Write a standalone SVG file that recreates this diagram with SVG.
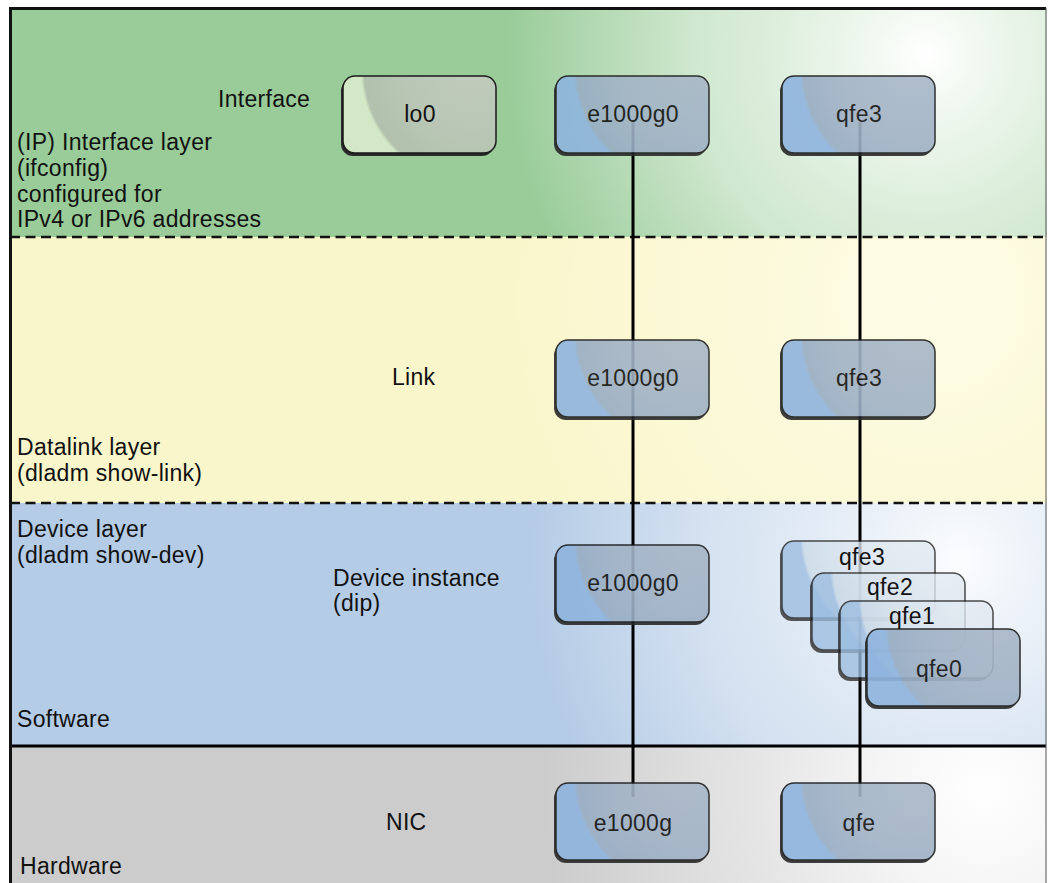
<svg xmlns="http://www.w3.org/2000/svg" width="1049" height="883" viewBox="0 0 1049 883">
<defs>
<style>
text{font-family:"Liberation Sans",Arial,sans-serif;font-size:23px;letter-spacing:0.3px;fill:#111}
.nl{text-anchor:middle}
.box{stroke:#1a1a1a;stroke-width:1.5}
.sh{fill:#2a2a2a}
.blue{fill:url(#gBlue)}
.light{fill:url(#gLight)}
.green{fill:url(#gGreen)}
.conn{stroke:#000;stroke-width:3;fill:none}
.dash{stroke:#111;stroke-width:2.5;stroke-dasharray:10 5.5;fill:none}
</style>
<radialGradient id="gBlue" gradientUnits="userSpaceOnUse" cx="130" cy="-5" r="112">
<stop offset="0" stop-color="#A9B8C8"/>
<stop offset="0.6" stop-color="#A2B3C6"/>
<stop offset="0.97" stop-color="#98ADC4"/>
<stop offset="1" stop-color="#8FB4DE"/>
</radialGradient>
<radialGradient id="gLight" gradientUnits="userSpaceOnUse" cx="130" cy="-5" r="112">
<stop offset="0" stop-color="#E4EBF2"/>
<stop offset="0.6" stop-color="#DAE4EE"/>
<stop offset="0.97" stop-color="#CBDAE8"/>
<stop offset="1" stop-color="#9CBDE0"/>
</radialGradient>
<radialGradient id="gGreen" gradientUnits="userSpaceOnUse" cx="130" cy="-5" r="112">
<stop offset="0" stop-color="#C0CBBC"/>
<stop offset="0.6" stop-color="#B9C6B5"/>
<stop offset="0.97" stop-color="#B1C1AD"/>
<stop offset="1" stop-color="#D3E8C6"/>
</radialGradient>
<radialGradient id="glowG" gradientUnits="userSpaceOnUse" cx="925" cy="55" r="420">
<stop offset="0" stop-color="#FFFFFF" stop-opacity="1"/>
<stop offset="0.15" stop-color="#F4FAF3" stop-opacity="0.95"/>
<stop offset="0.55" stop-color="#E2F1E1" stop-opacity="0.75"/>
<stop offset="1" stop-color="#E2F1E1" stop-opacity="0"/>
</radialGradient>
<radialGradient id="glowY" gradientUnits="userSpaceOnUse" cx="930" cy="300" r="420">
<stop offset="0" stop-color="#FFFEF0" stop-opacity="0.7"/>
<stop offset="1" stop-color="#FFFEF0" stop-opacity="0"/>
</radialGradient>
<radialGradient id="glowB" gradientUnits="userSpaceOnUse" cx="960" cy="560" r="430">
<stop offset="0" stop-color="#FFFFFF" stop-opacity="0.95"/>
<stop offset="0.2" stop-color="#F2F6FB" stop-opacity="0.9"/>
<stop offset="0.6" stop-color="#E2EBF5" stop-opacity="0.7"/>
<stop offset="1" stop-color="#E2EBF5" stop-opacity="0"/>
</radialGradient>
<radialGradient id="glowH" gradientUnits="userSpaceOnUse" cx="985" cy="790" r="440">
<stop offset="0" stop-color="#FFFFFF" stop-opacity="1"/>
<stop offset="0.25" stop-color="#F7F7F7" stop-opacity="0.95"/>
<stop offset="0.65" stop-color="#E8E8E8" stop-opacity="0.7"/>
<stop offset="1" stop-color="#E8E8E8" stop-opacity="0"/>
</radialGradient>
</defs>

<g id="background">
<rect x="9" y="7" width="1038" height="230" fill="#99CC99"/>
<rect x="9" y="7" width="1038" height="230" fill="url(#glowG)"/>
<rect x="9" y="237" width="1038" height="266" fill="#FAF6CC"/>
<rect x="9" y="237" width="1038" height="266" fill="url(#glowY)"/>
<rect x="9" y="503" width="1038" height="243" fill="#B5CCE6"/>
<rect x="9" y="503" width="1038" height="243" fill="url(#glowB)"/>
<rect x="9" y="746" width="1038" height="140" fill="#CCCCCC"/>
<rect x="9" y="746" width="1038" height="140" fill="url(#glowH)"/>
<line class="dash" x1="10" y1="237" x2="1046" y2="237"/>
<line class="dash" x1="10" y1="503" x2="1046" y2="503"/>
<line x1="10" y1="746" x2="1046" y2="746" stroke="#000" stroke-width="3"/>
<path d="M10.5 883 V8.5 H1046" fill="none" stroke="#111" stroke-width="3"/>
<line x1="1046" y1="8" x2="1046" y2="883" stroke="#555" stroke-width="1"/>
</g>

<g id="labels">
<text x="218" y="107">Interface</text>
<text x="17" y="150">(IP) Interface layer</text>
<text x="17" y="176">(ifconfig)</text>
<text x="17" y="202">configured for</text>
<text x="17" y="227">IPv4 or IPv6 addresses</text>
<text x="392" y="385">Link</text>
<text x="17" y="455">Datalink layer</text>
<text x="17" y="481">(dladm show-link)</text>
<text x="17" y="537">Device layer</text>
<text x="17" y="563">(dladm show-dev)</text>
<text x="333" y="586">Device instance</text>
<text x="333" y="611">(dip)</text>
<text x="17" y="727">Software</text>
<text x="20" y="874">Hardware</text>
<text x="386" y="830">NIC</text>
</g>

<g id="connectors">
<line class="conn" x1="633" y1="122" x2="633" y2="797"/>
<line class="conn" x1="860" y1="122" x2="860" y2="797"/>
</g>

<g id="node-lo0" transform="translate(343,76)">
<rect class="sh" x="-2" y="3" width="153" height="77" rx="12"/>
<rect class="box green" width="153" height="77" rx="12"/>
<text class="nl" x="77" y="46">lo0</text>
</g>
<g id="node-if-e1000g0" transform="translate(556,76)" opacity="0.9">
<rect class="sh" x="-2" y="3" width="153" height="77" rx="12"/>
<rect class="box blue" width="153" height="77" rx="12"/>
<text class="nl" x="77" y="46">e1000g0</text>
</g>
<g id="node-if-qfe3" transform="translate(782,76)" opacity="0.9">
<rect class="sh" x="-2" y="3" width="153" height="77" rx="12"/>
<rect class="box blue" width="153" height="77" rx="12"/>
<text class="nl" x="77" y="46">qfe3</text>
</g>
<g id="node-link-e1000g0" transform="translate(556,340)" opacity="0.9">
<rect class="sh" x="-2" y="3" width="153" height="77" rx="12"/>
<rect class="box blue" width="153" height="77" rx="12"/>
<text class="nl" x="77" y="46">e1000g0</text>
</g>
<g id="node-link-qfe3" transform="translate(782,340)" opacity="0.9">
<rect class="sh" x="-2" y="3" width="153" height="77" rx="12"/>
<rect class="box blue" width="153" height="77" rx="12"/>
<text class="nl" x="77" y="46">qfe3</text>
</g>
<g id="node-dev-e1000g0" transform="translate(556,545)" opacity="0.9">
<rect class="sh" x="-2" y="3" width="153" height="77" rx="12"/>
<rect class="box blue" width="153" height="77" rx="12"/>
<text class="nl" x="77" y="46">e1000g0</text>
</g>
<g id="node-dev-qfe3" transform="translate(782,541)">
<g opacity="0.78">
<rect class="sh" x="-2" y="3" width="153" height="77" rx="12"/>
<rect class="box light" width="153" height="77" rx="12"/>
</g>
<text class="nl" x="80" y="24">qfe3</text>
</g>
<g id="node-dev-qfe2" transform="translate(812,573)">
<g opacity="0.78">
<rect class="sh" x="-2" y="3" width="153" height="77" rx="12"/>
<rect class="box light" width="153" height="77" rx="12"/>
</g>
<text class="nl" x="78" y="22">qfe2</text>
</g>
<g id="node-dev-qfe1" transform="translate(840,601)">
<g opacity="0.78">
<rect class="sh" x="-2" y="3" width="153" height="77" rx="12"/>
<rect class="box light" width="153" height="77" rx="12"/>
</g>
<text class="nl" x="72" y="23">qfe1</text>
</g>
<g id="node-dev-qfe0" transform="translate(867,629)" opacity="0.9">
<rect class="sh" x="-2" y="3" width="153" height="77" rx="12"/>
<rect class="box blue" width="153" height="77" rx="12"/>
<text class="nl" x="72" y="48">qfe0</text>
</g>
<g id="node-nic-e1000g" transform="translate(556,783)" opacity="0.9">
<rect class="sh" x="-2" y="3" width="153" height="77" rx="12"/>
<rect class="box blue" width="153" height="77" rx="12"/>
<text class="nl" x="77" y="48">e1000g</text>
</g>
<g id="node-nic-qfe" transform="translate(782,783)" opacity="0.9">
<rect class="sh" x="-2" y="3" width="153" height="77" rx="12"/>
<rect class="box blue" width="153" height="77" rx="12"/>
<text class="nl" x="77" y="48">qfe</text>
</g>
</svg>
